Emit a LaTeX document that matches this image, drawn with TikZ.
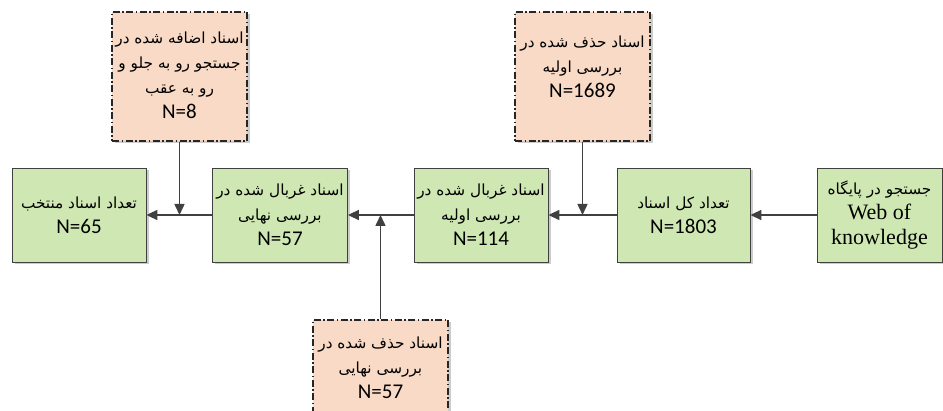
\documentclass[tikz,border=0pt]{standalone}
\usepackage{fontspec}
\setmainfont{Carlito}
\newfontfamily\fa[Script=Arabic]{DejaVu Sans}
\newfontfamily\tms{Liberation Serif}
\TeXXeTstate=1
\usetikzlibrary{arrows.meta,shadows}
\definecolor{boxgreen}{HTML}{CFE8B3}
\definecolor{boxpeach}{HTML}{F8DAC6}
\definecolor{linegray}{HTML}{404040}
\newcommand{\fl}[1]{{\fa\fontsize{15.3}{25}\selectfont\beginR #1\endR}}
\newcommand{\tl}[1]{{\tms\fontsize{22}{25}\selectfont #1}}
\begin{document}
\begin{tikzpicture}[x=1pt,y=-1pt,
 box/.style={rectangle, draw=linegray, line width=0.8pt, inner sep=0pt, align=center,
   font=\fontsize{21}{25}\selectfont,
   drop shadow={shadow xshift=2.5pt, shadow yshift=-2.5pt, fill=black!20, opacity=1}},
 gbox/.style={box, fill=boxgreen, minimum height=94pt},
 obox/.style={box, fill=boxpeach, draw=black!85, line width=1.2pt,
   dash pattern=on 7pt off 2.5pt on 1.5pt off 2.5pt,
   minimum width=135pt, minimum height=129pt},
 txt/.style={align=center, inner sep=0pt, font=\fontsize{21}{25}\selectfont},
 arr/.style={draw=linegray, line width=1.5pt, -{Triangle[length=11pt,width=10pt]}}
]
\path[use as bounding box, clip] (0,0) rectangle (943,411);

\node[gbox, minimum width=134pt] (g1) at (79,215) {\fl{تعداد اسناد منتخب}\\N=65};
\node[gbox, minimum width=135pt] (g2) at (280,215) {\fl{اسناد غربال شده در}\\\fl{بررسی نهایی}\\N=57};
\node[gbox, minimum width=134pt] (g3) at (481,215) {\fl{اسناد غربال شده در}\\\fl{بررسی اولیه}\\N=114};
\node[gbox, minimum width=133pt] (g4) at (683.5,215) {\fl{تعداد کل اسناد}\\N=1803};
\node[gbox, minimum width=125pt] (g5) at (879.5,215) {\fl{جستجو در پایگاه}\\\tl{Web of}\\\tl{knowledge}};

\node[obox] (o1) at (179.5,76.5) {};
\node[txt] (t1) at ([yshift=1pt]o1.center) {\fl{اسناد اضافه شده در}\\\fl{جستجو رو به جلو و}\\\fl{رو به عقب}\\N=8};
\node[obox] (o2) at (582.5,76.5) {};
\node[txt] (t2) at ([yshift=10pt]o2.center) {\fl{اسناد حذف شده در}\\\fl{بررسی اولیه}\\N=1689};
\node[obox] (o3) at (380.5,384.5) {};
\node[txt] (t3) at ([yshift=17pt]o3.center) {\fl{اسناد حذف شده در}\\\fl{بررسی نهایی}\\N=57};

\draw[arr] (g5.west) -- (g4.east);
\draw[arr] (g4.west) -- (g3.east);
\draw[arr] (g3.west) -- (g2.east);
\draw[arr] (g2.west) -- (g1.east);
\coordinate (j1) at (o1.south |- g1.east);
\coordinate (j2) at (o2.south |- g3.east);
\coordinate (j3) at (o3.north |- g2.east);
\draw[arr] (o1.south) -- (j1);
\draw[arr] (o2.south) -- (j2);
\draw[arr] (o3.north) -- (j3);
\end{tikzpicture}
\end{document}
